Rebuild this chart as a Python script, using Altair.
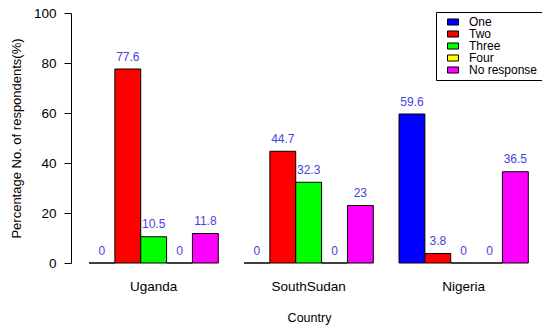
import altair as alt
import pandas as pd

countries = ["Uganda", "SouthSudan", "Nigeria"]
responses = ["One", "Two", "Three", "Four", "No response"]
uganda = [0, 77.6, 10.5, 0, 11.8]
southsudan = [0, 44.7, 32.3, 0, 23]
nigeria = [59.6, 3.8, 0, 0, 36.5]
colors = ["#0000FF", "#FF0000", "#00FF00", "#FFFF00", "#FF00FF"]

rows = []
for c, vals in zip(countries, [uganda, southsudan, nigeria]):
    for r, v in zip(responses, vals):
        rows.append({"Country": c, "Response": r, "Value": v, "Label": f"{v:g}"})
df = pd.DataFrame(rows)

FONT = "Liberation Sans"

x = alt.X("Country:N", sort=countries,
          scale=alt.Scale(paddingInner=0.166, paddingOuter=0.1024, align=0.568),
          axis=alt.Axis(title="Country", labelAngle=0, domain=False, ticks=False,
                        labelPadding=16, labelFontSize=13.5, labelFont=FONT,
                        labelColor="#000000", titleFont=FONT, titleFontSize=12.5,
                        titleFontWeight="normal", titleColor="#000000",
                        titleX=238, titleY=54, titleBaseline="middle"))
xo = alt.XOffset("Response:N", sort=responses,
                 scale=alt.Scale(paddingInner=0, paddingOuter=0))

base = alt.Chart(df)

bars = base.mark_bar(stroke="black", strokeWidth=1).encode(
    x=x,
    xOffset=xo,
    y=alt.Y("Value:Q", scale=alt.Scale(domain=[0, 100], nice=False),
            axis=alt.Axis(title="Percentage No. of respondents(%)",
                          values=[0, 20, 40, 60, 80, 100], grid=False,
                          tickSize=7, tickColor="#000000", domainColor="#000000",
                          labelPadding=8, labelFontSize=13.5, labelFont=FONT,
                          labelColor="#000000", titleFont=FONT, titleFontSize=13,
                          titleFontWeight="normal", titleColor="#000000",
                          titleX=-55, titleY=125, titleAngle=-90,
                          titleAlign="center", titleBaseline="middle")),
    color=alt.Color("Response:N", sort=responses,
                    scale=alt.Scale(domain=responses, range=colors),
                    legend=alt.Legend(title=None, orient="none", legendX=365, legendY=-1,
                                      strokeColor="black", fillColor="white",
                                      padding=4, symbolOffset=7, rowPadding=0,
                                      symbolType="M-1,-0.55L1,-0.55L1,0.55L-1,0.55Z",
                                      symbolSize=121, symbolStrokeColor="black",
                                      symbolStrokeWidth=1, labelOffset=10,
                                      labelFont=FONT, labelFontSize=12,
                                      labelColor="#000000")),
)

labels = base.mark_text(baseline="bottom", dy=-5.5, fontSize=12, font=FONT,
                        color="#4444DD").encode(
    x=x,
    xOffset=xo,
    y=alt.Y("Value:Q"),
    text="Label:N",
)

chart = alt.layer(bars, labels).properties(
    width=471, height=250,
    autosize=alt.AutoSizeParams(type="none"),
    padding={"left": 63, "top": 5, "right": 0, "bottom": 63},
).configure_view(stroke=None)

chart.save("out.html", embed_options={"renderer": "svg", "actions": False})
